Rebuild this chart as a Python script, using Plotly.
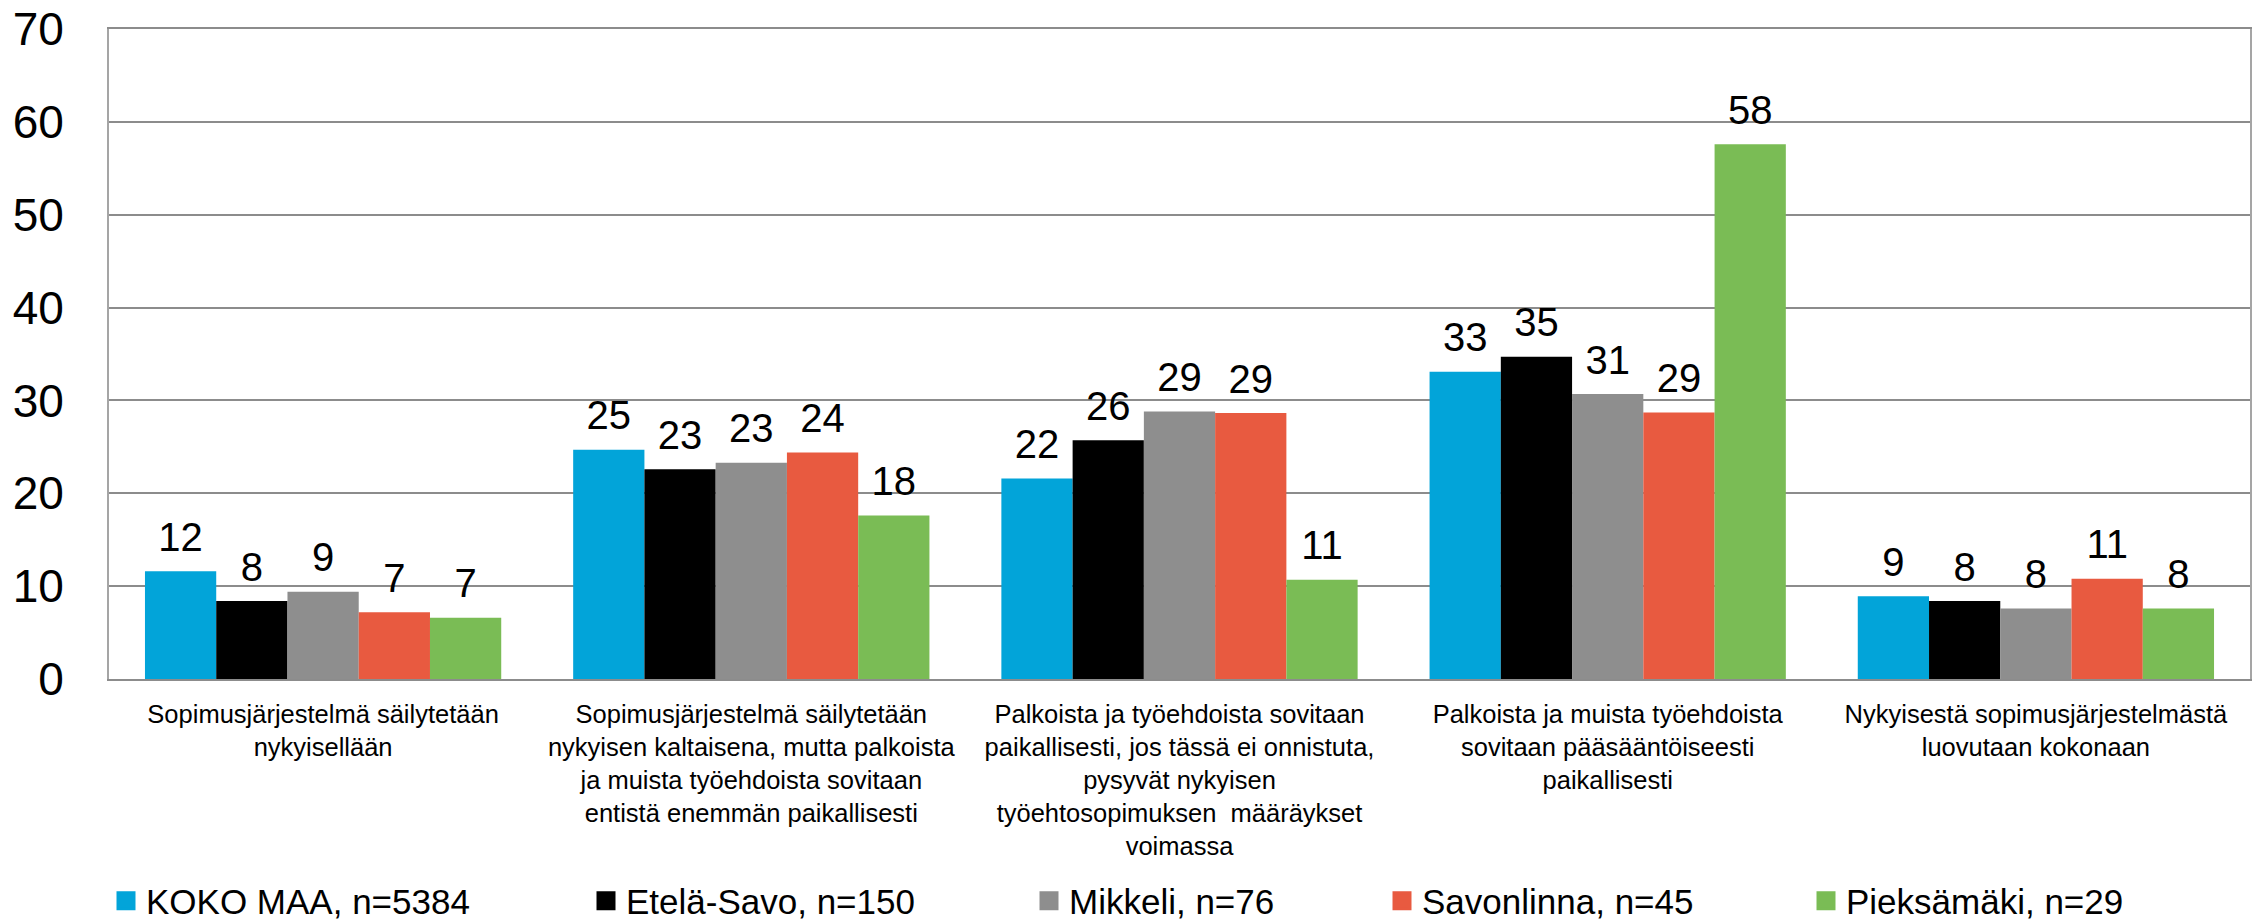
import plotly.graph_objects as go

categories = [
    "Sopimusjärjestelmä säilytetään<br>nykyisellään",
    "Sopimusjärjestelmä säilytetään<br>nykyisen kaltaisena, mutta palkoista<br>ja muista työehdoista sovitaan<br>entistä enemmän paikallisesti",
    "Palkoista ja työehdoista sovitaan<br>paikallisesti, jos tässä ei onnistuta,<br>pysyvät nykyisen<br>työehtosopimuksen  määräykset<br>voimassa",
    "Palkoista ja muista työehdoista<br>sovitaan pääsääntöiseesti<br>paikallisesti",
    "Nykyisestä sopimusjärjestelmästä<br>luovutaan kokonaan",
]

series_names = ["KOKO MAA, n=5384", "Etelä-Savo, n=150", "Mikkeli, n=76",
                "Savonlinna, n=45", "Pieksämäki, n=29"]

koko_maa = [11.6, 24.7, 21.6, 33.1, 8.9]
etela_savo = [8.4, 22.6, 25.7, 34.7, 8.4]
mikkeli = [9.4, 23.3, 28.8, 30.7, 7.6]
savonlinna = [7.2, 24.4, 28.65, 28.7, 10.8]
pieksamaki = [6.6, 17.6, 10.7, 57.6, 7.6]

y_ticks = [0, 10, 20, 30, 40, 50, 60, 70]

series_values = [koko_maa, etela_savo, mikkeli, savonlinna, pieksamaki]
colors = ["#02A4D9", "#000000", "#8E8E8E", "#E85A40", "#7ABC55"]
legend_ids = ["legend", "legend2", "legend3", "legend4", "legend5"]
legend_x_px = [106, 586, 1029, 1382, 1806]

FONT = "Arial, 'Liberation Sans', sans-serif"
W, H = 2260, 923
GAP = 0.168

fig = go.Figure()
for name, vals, col in zip(series_names, series_values, colors):
    fig.add_trace(go.Bar(
        x=categories, y=vals, name=name, showlegend=False,
        marker=dict(color=col, line=dict(width=0)),
        offsetgroup=name, alignmentgroup="all",
    ))
# value labels, placed in the same offset group as their bar
for name, vals in zip(series_names, series_values):
    fig.add_trace(go.Scatter(
        x=categories, y=vals, mode="markers+text", showlegend=False,
        marker=dict(size=15, color="rgba(0,0,0,0)"),
        texttemplate="%{y:.0f}", textposition="top center",
        textfont=dict(size=40, color="#000000", family=FONT),
        cliponaxis=False, hoverinfo="skip",
        offsetgroup=name, alignmentgroup="all",
    ))
# legend entries (square swatches)
for name, col, lid in zip(series_names, colors, legend_ids):
    fig.add_trace(go.Scatter(
        x=[None], y=[None], mode="markers", name=name, legend=lid,
        marker=dict(symbol="square", size=16, color=col,
                    line=dict(color=col, width=3)),
        offsetgroup=name, alignmentgroup="all", hoverinfo="skip",
    ))

layout_legends = {}
for lid, xp in zip(legend_ids, legend_x_px):
    layout_legends[lid] = dict(
        orientation="h", xref="container", yref="container",
        x=xp / W, y=1 - 901 / H, xanchor="left", yanchor="middle",
        font=dict(size=35, color="#000000", family=FONT),
        bgcolor="rgba(0,0,0,0)", borderwidth=0, itemsizing="trace",
    )

fig.update_layout(
    width=W, height=H,
    margin=dict(l=109, r=10, t=29, b=H - 679),
    paper_bgcolor="#ffffff", plot_bgcolor="#ffffff",
    barmode="group", bargap=GAP, bargroupgap=0,
    scattermode="group", scattergap=GAP,
    showlegend=True,
    font=dict(family=FONT, color="#000000"),
    **layout_legends,
)

fig.update_yaxes(
    range=[0, 70], tickvals=y_ticks, ticktext=[str(v) for v in y_ticks],
    showgrid=True, gridcolor="#8c8c8c", gridwidth=2,
    showline=True, linecolor="#a5a5a5", linewidth=2, mirror=True,
    zeroline=False, ticks="", ticklabelstandoff=34, automargin=False,
    tickfont=dict(size=46, color="#000000", family=FONT),
)
fig.update_xaxes(
    showline=True, linecolor="#8c8c8c", linewidth=2, mirror=True,
    showgrid=False, ticks="", tickangle=0, ticklabelstandoff=11, automargin=False,
    tickfont=dict(size=25.5, color="#000000", family=FONT),
)

fig.write_html(
    "out.html",
    config={"displayModeBar": False},
    post_script="document.body.style.margin='0';document.body.style.overflow='hidden';",
)
